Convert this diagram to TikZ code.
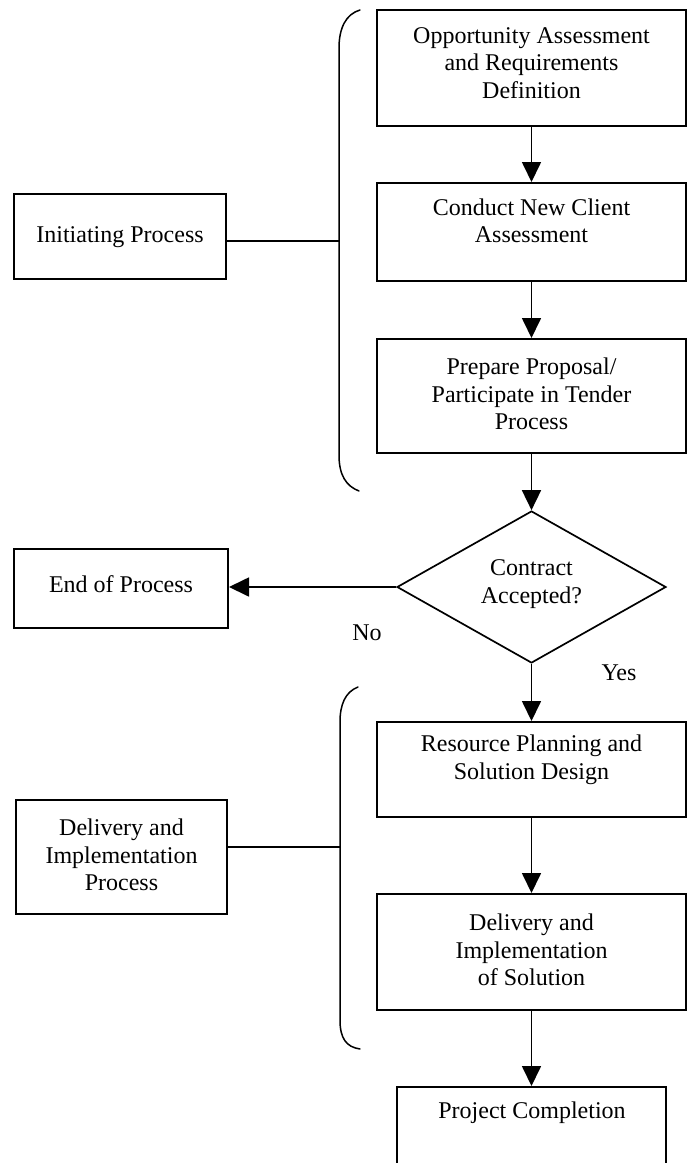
\documentclass[tikz,border=0pt]{standalone}
\usepackage{fontspec}
\setmainfont{Liberation Serif}
\usetikzlibrary{arrows.meta,shapes.geometric}

\begin{document}
\begin{tikzpicture}[x=1pt,y=-1pt,
  box/.style={draw, line width=2pt, rectangle, inner sep=0pt},
  decision/.style={draw, line width=1.7pt, diamond, inner sep=0pt, aspect=1.77},
  lbl/.style={align=center, font=\fontsize{24}{27.5}\selectfont, inner sep=0pt},
  flow/.style={line width=1.7pt, -{Triangle[length=20pt,width=19pt]}},
  link/.style={line width=1.6pt},
  bracket/.style={line width=1.5pt, line cap=round}]
\clip (0,0) rectangle (694,1163);

% main column of process steps
\node[box, minimum width=309pt, minimum height=116pt] (b1) at (531.5,68) {};
\node[box, minimum width=309pt, minimum height=98pt]  (b2) at (531.5,232) {};
\node[box, minimum width=309pt, minimum height=114pt] (b3) at (531.5,396) {};
\node[decision, minimum width=269pt, minimum height=152pt] (dec) at (531.5,587) {};
\node[box, minimum width=309pt, minimum height=95pt]  (b4) at (531.5,769.5) {};
\node[box, minimum width=309pt, minimum height=116pt] (b5) at (531.5,952) {};
\node[box, minimum width=269pt, minimum height=113pt] (b6) at (531.5,1143.5) {};

% side boxes
\node[box, minimum width=212pt, minimum height=85pt]  (init) at (120,236.5) {};
\node[box, minimum width=214pt, minimum height=79pt]  (endp) at (121,588.5) {};
\node[box, minimum width=211pt, minimum height=114pt] (dip)  at (121.5,857) {};

% texts
\node[lbl] (t1) at (531.5,63) {Opportunity Assessment\\and Requirements\\Definition};
\node[lbl] (t2) at (531.5,221) {Conduct New Client\\Assessment};
\node[lbl] (t3) at (531.5,394) {Prepare Proposal/\\Participate in Tender\\Process};
\node[lbl] (td) at (531.5,584) {Contract\\Accepted?};
\node[lbl] (t4) at (531.5,760) {Resource Planning and\\Solution Design};
\node[lbl] (t5) at (531.5,950) {Delivery and\\Implementation\\of Solution};
\node[lbl] (t6) at (532,1113) {Project Completion};
\node[lbl] (ti) at (120,237) {Initiating Process};
\node[lbl] (te) at (121,584) {End of Process};
\node[lbl] (tp) at (121.5,855) {Delivery and\\Implementation\\Process};
\node[lbl] (no) at (367,633) {No};
\node[lbl] (yes) at (619,673) {Yes};

% flow arrows
\draw[flow] (b1.south) -- (b2.north);
\draw[flow] (b2.south) -- (b3.north);
\draw[flow] (b3.south) -- (dec.north);
\draw[flow] (dec.west) -- (endp.east |- dec.west);
\draw[flow] (dec.south) -- (b4.north);
\draw[flow] (b4.south) -- (b5.north);
\draw[flow] (b5.south) -- (b6.north);

% grouping brackets
\coordinate (j1) at (339,241);
\coordinate (j2) at (340,847);
\draw[bracket] (360,10) .. controls (346,14) and (339,28) .. (339,48)
  -- (339,455) .. controls (339,475) and (346,486) .. (359,491);
\draw[bracket] (358,687) .. controls (345,692) and (340,705) .. (340,722)
  -- (340,1020) .. controls (340,1038) and (346,1047) .. (360,1049);
\draw[link] (j1 -| init.east) -- (j1);
\draw[link] (j2 -| dip.east) -- (j2);
\end{tikzpicture}
\end{document}
